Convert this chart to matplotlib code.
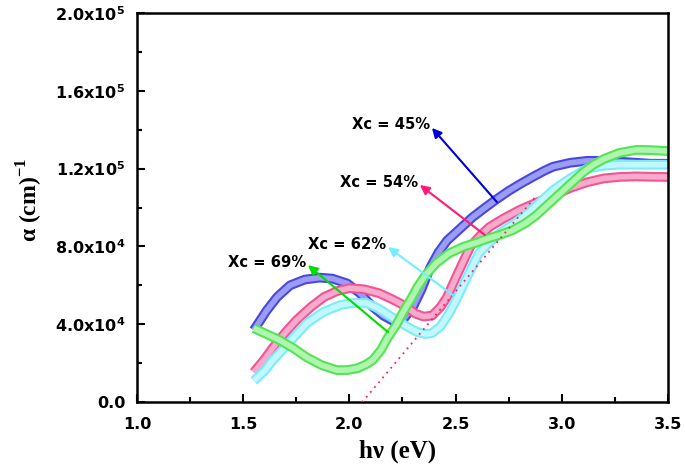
import matplotlib
matplotlib.use("Agg")
import matplotlib.pyplot as plt
from matplotlib.ticker import MultipleLocator, FixedLocator

plt.rcParams['mathtext.fontset'] = 'custom'
plt.rcParams['mathtext.bf'] = 'DejaVu Sans:bold'
plt.rcParams['mathtext.rm'] = 'Liberation Serif:bold'

# ---- data (alpha in units of 1e3 cm^-1) ----
blue_x = [1.55, 1.58, 1.61, 1.66, 1.72, 1.79, 1.86, 1.92, 1.99, 2.05, 2.11, 2.16, 2.21, 2.25,
          2.30, 2.34, 2.38, 2.42, 2.46, 2.52, 2.58, 2.64, 2.69, 2.75, 2.80, 2.86, 2.92, 2.96,
          3.04, 3.12, 3.20, 3.28, 3.35, 3.42, 3.50]
blue_y = [37, 42, 47, 54, 60, 63, 64, 63.5, 61, 56, 49, 44.5, 41.5, 42,
          49, 58, 69, 77, 83, 89, 95, 100, 104, 108.5, 111.8, 115.5, 119, 121,
          123, 124, 124, 123.5, 123, 122.5, 122.5]

pink_x = [1.55, 1.60, 1.64, 1.70, 1.75, 1.82, 1.88, 1.94, 2.00, 2.07, 2.14, 2.20, 2.27, 2.31,
          2.35, 2.39, 2.43, 2.46, 2.51, 2.57, 2.62, 2.66, 2.72, 2.80, 2.88, 2.96, 3.04, 3.12,
          3.20, 3.27, 3.35, 3.42, 3.50]
pink_y = [15.4, 22, 28, 36, 42, 49, 54, 57, 58.6, 58, 56, 53, 49, 45.5,
          44, 44.5, 49, 54, 66, 80, 86, 90, 94, 98.7, 102.5, 106, 110, 113,
          115, 115.7, 116, 115.8, 115.7]

cyan_x = [1.55, 1.60, 1.64, 1.72, 1.80, 1.88, 1.96, 2.02, 2.08, 2.14, 2.21, 2.27, 2.32, 2.36,
          2.39, 2.43, 2.47, 2.51, 2.54, 2.58, 2.61, 2.66, 2.71, 2.78, 2.84, 2.90, 2.96, 3.04,
          3.12, 3.20, 3.27, 3.35, 3.42, 3.50]
cyan_y = [11, 16, 21.6, 31, 40.6, 46.5, 50, 51, 51, 48, 43, 39, 36, 35,
          35.5, 39, 45.6, 54, 61, 70, 76.6, 82, 87, 92, 97, 103, 109, 115,
          120, 121.5, 122, 122, 122, 122]

green_x = [1.55, 1.60, 1.67, 1.74, 1.80, 1.87, 1.94, 1.99, 2.04, 2.08, 2.11, 2.15, 2.18, 2.22,
           2.25, 2.29, 2.32, 2.36, 2.41, 2.47, 2.54, 2.60, 2.65, 2.71, 2.77, 2.83, 2.88, 2.94,
           3.00, 3.05, 3.10, 3.15, 3.20, 3.27, 3.35, 3.42, 3.50]
green_y = [38, 35.5, 32, 27.5, 23, 19, 16.5, 16.5, 17.5, 19.5, 21.6, 27, 33, 39.5,
           45.7, 53, 59, 65.5, 71.5, 76.5, 80, 82, 84, 86, 88.4, 92, 96, 102,
           108, 113, 118, 122, 125, 128, 129.6, 129.5, 129]

fit_x = [2.06, 2.88]
fit_y = [0, 106]

labels = ["Xc = 45%", "Xc = 54%", "Xc = 62%", "Xc = 69%"]
label_head_x = [2.389, 2.332, 2.182, 1.805]
label_head_y = [140.9, 111.6, 79.7, 70.4]
label_tail_x = [2.695, 2.638, 2.488, 2.182]
label_tail_y = [102.8, 85.9, 55.0, 36.0]

yticks = [0, 40, 80, 120, 160, 200]
yticklabels = ["0.0", r"4.0x10$^{\mathbf{4}}$", r"8.0x10$^{\mathbf{4}}$",
               r"1.2x10$^{\mathbf{5}}$", r"1.6x10$^{\mathbf{5}}$", r"2.0x10$^{\mathbf{5}}$"]
xticks = [1.0, 1.5, 2.0, 2.5, 3.0, 3.5]

# (x, y, edge colour, inner colour)
series = [
    (blue_x, blue_y, '#4848e4', '#9c9cf2'),
    (pink_x, pink_y, '#f25595', '#f8aacc'),
    (cyan_x, cyan_y, '#7aecfa', '#c2f8fd'),
    (green_x, green_y, '#55e455', '#aef5ae'),
]
arrow_colors = ['#0000dd', '#ff1a75', '#70f0ff', '#00dd00']

fig = plt.figure(figsize=(6.85, 4.76), dpi=100)
ax = fig.add_axes([0.2, 0.155, 0.775, 0.818])

for xs, ys, c, ci in series:
    ax.plot(xs, ys, color=c, lw=7, solid_capstyle='butt', solid_joinstyle='round', zorder=2)
    ax.plot(xs, ys, color=ci, lw=4, solid_capstyle='butt', solid_joinstyle='round', zorder=2)

ax.plot(fit_x, fit_y, color='#ff1a75', lw=1.3, ls=(0, (1, 2.5)), zorder=4)

for t, hx, hy, tx, ty, c in zip(labels, label_head_x, label_head_y,
                                label_tail_x, label_tail_y, arrow_colors):
    ax.annotate('', xy=(hx, hy), xytext=(tx, ty),
                arrowprops=dict(arrowstyle='-|>', color=c, lw=1.5, mutation_scale=14,
                                shrinkA=0, shrinkB=0), zorder=5)
    ax.text(hx - 0.01, hy + 1.5, t, ha='right', va='center', fontsize=10.6,
            fontweight='bold', family='DejaVu Sans', color='black')

ax.set_xlim(1.0, 3.5)
ax.set_ylim(0, 200)
ax.xaxis.set_major_locator(FixedLocator(xticks))
ax.xaxis.set_minor_locator(MultipleLocator(0.25))
ax.yaxis.set_major_locator(FixedLocator(yticks))
ax.yaxis.set_minor_locator(MultipleLocator(20))
ax.set_xticklabels([f"{v:.1f}" for v in xticks])
ax.set_yticklabels(yticklabels)
for lab in ax.get_xticklabels() + ax.get_yticklabels():
    lab.set_fontfamily('DejaVu Sans')
    lab.set_fontweight('bold')
    lab.set_fontsize(11.5)

ax.tick_params(which='both', direction='in', top=False, right=False, width=1.5)
ax.tick_params(which='major', length=6)
ax.tick_params(which='minor', length=3.5)
ax.tick_params(axis='x', pad=11)
ax.tick_params(axis='y', pad=8.5)
for s in ax.spines.values():
    s.set_linewidth(1.8)

ax.set_xlabel("hν (eV)", fontsize=18, fontweight='bold', family='Liberation Serif')
ax.set_ylabel(r"α (cm)$^{\mathrm{-1}}$", fontsize=17, fontweight='bold',
              family='Liberation Serif')
ax.xaxis.set_label_coords(0.49, -0.095)
ax.yaxis.set_label_coords(-0.173, 0.52)

fig.savefig("out.png", dpi=100)
